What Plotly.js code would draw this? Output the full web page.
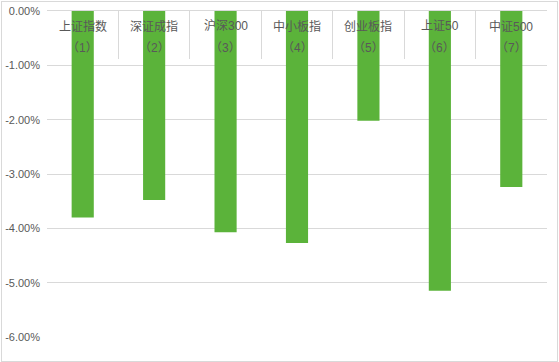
<!DOCTYPE html>
<html>
<head>
<meta charset="utf-8">
<script src="https://cdn.plot.ly/plotly-3.0.1.min.js"></script>
<style>
html,body{margin:0;padding:0;background:#fff;}
#wrap{position:relative;width:559px;height:362px;}
#chart{width:559px;height:362px;}
#frame{position:absolute;left:1px;top:1px;width:557px;height:361px;box-sizing:border-box;border:1px solid #d9d9d9;pointer-events:none;}
</style>
</head>
<body>
<div id="wrap"><div id="chart"></div><div id="frame"></div></div>
<script>
const indexNames = ["上证指数", "深证成指", "沪深300", "中小板指", "创业板指", "上证50", "中证500"];
const indexNumbers = ["（1）", "（2）", "（3）", "（4）", "（5）", "（6）", "（7）"];
const changes = [-3.80, -3.48, -4.07, -4.27, -2.02, -5.15, -3.24];
const yTicks = [0, -1, -2, -3, -4, -5, -6];

const categories = indexNames.map((n, i) => n + indexNumbers[i]);
const fontStack = '"Liberation Sans", "Noto Sans CJK SC", sans-serif';
const textColor = '#595959';

const annotations = [];
categories.forEach((c, i) => {
  annotations.push({x: c, xref: 'x', y: 0.953, yref: 'paper', yanchor: 'middle', xanchor: 'center',
    text: indexNames[i], showarrow: false, font: {family: fontStack, size: 12, color: textColor}});
  annotations.push({x: c, xref: 'x', y: 0.885, yref: 'paper', yanchor: 'middle', xanchor: 'center',
    text: indexNumbers[i], showarrow: false, font: {family: fontStack, size: 12, color: textColor}});
});

const trace = {
  type: 'bar', x: categories, y: changes,
  marker: {color: '#5bb33a'}, width: 0.31, hoverinfo: 'skip'
};

const layout = {
  width: 559, height: 362,
  margin: {l: 47, r: 12, t: 11, b: 25, pad: 0},
  paper_bgcolor: '#fff', plot_bgcolor: '#fff',
  showlegend: false,
  xaxis: {
    type: 'category', side: 'top', showticklabels: false,
    ticks: 'inside', ticklen: 48, tickwidth: 1, tickcolor: '#d9d9d9', tickson: 'boundaries',
    showline: true, linecolor: '#d9d9d9', linewidth: 1, showgrid: false, zeroline: false,
    fixedrange: true
  },
  yaxis: {
    range: [-6, 0], tickvals: yTicks, ticktext: yTicks.map(v => v.toFixed(2) + '%'),
    showgrid: true, gridcolor: '#d9d9d9', gridwidth: 1, zeroline: false, showline: false,
    ticks: '', ticklabelstandoff: 6,
    tickfont: {family: fontStack, size: 11, color: textColor}, fixedrange: true
  },
  annotations: annotations
};

Plotly.newPlot('chart', [trace], layout, {displayModeBar: false, staticPlot: true});
</script>
</body>
</html>
